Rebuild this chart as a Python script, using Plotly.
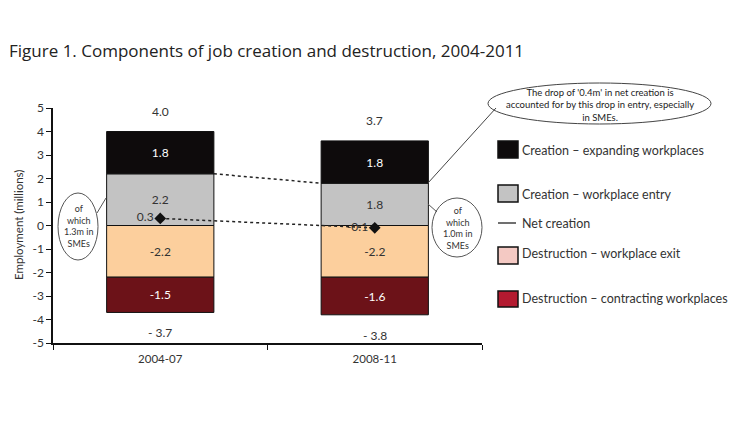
import plotly.graph_objects as go

periods = ["2004-07", "2008-11"]
expanding = [1.8, 1.8]
entry = [2.2, 1.8]
exit_ = [-2.2, -2.2]
contracting = [-1.5, -1.6]
net = [0.3, -0.1]
top_totals = ["4.0", "3.7"]
bottom_totals = ["- 3.7", "- 3.8"]
y_tick_vals = [-5, -4, -3, -2, -1, 0, 1, 2, 3, 4, 5]
y_tick_text = ["-5", "-4", "-3", "-2", "-1", "0", "1", "2", "3", "4", "5"]

legend_labels = ["Creation – expanding workplaces", "Creation – workplace entry", "Net creation",
                 "Destruction – workplace exit", "Destruction – contracting workplaces"]

FONT = "Lato"
C_EXP = "#0e0b0c"
C_ENT = "#c3c3c3"
C_EXIT = "#fccf9d"
C_CON = "#6c1218"
LEG_EXIT = "#f4c9c3"
LEG_CON = "#b31a30"

# plot area pixel geometry
L, R, T, B = 53, 482, 108, 343
W, H = 736, 429


def PX(px):
    return (px - L) / (R - L)


def PY(py):
    return (B - py) / (B - T)


BW = 0.5
fig = go.Figure()


def seg(vals, color, txtcolor, name):
    fig.add_trace(go.Bar(
        x=periods, y=vals, name=name, width=BW,
        marker=dict(color=color, line=dict(color="#111", width=1)),
        text=[f"{v:.1f}" for v in vals], textposition="inside", insidetextanchor="middle",
        textfont=dict(family=FONT, size=12, color=txtcolor), constraintext="none",
        showlegend=False, hoverinfo="skip"))


seg(exit_, C_EXIT, "#333", legend_labels[3])
seg(contracting, C_CON, "#ffffff", legend_labels[4])
seg(entry, C_ENT, "#333", legend_labels[1])
seg(expanding, C_EXP, "#ffffff", legend_labels[0])

fig.add_trace(go.Scatter(
    x=periods, y=net, mode="lines+markers+text",
    line=dict(color="#222", width=1.5, dash="dot"),
    marker=dict(symbol="diamond", size=9, color="#111"),
    text=[f"{v:.1f}" for v in net], textposition="middle left",
    textfont=dict(family=FONT, size=12, color="#333"),
    showlegend=False, hoverinfo="skip"))

pos_tops = [e + x for e, x in zip(expanding, entry)]
neg_bots = [e + c for e, c in zip(exit_, contracting)]

shapes = []
# dotted link between entry tops
shapes.append(dict(type="line", xref="x", yref="y", x0=0 + BW / 2, x1=1 - BW / 2,
                   y0=entry[0], y1=entry[1], line=dict(color="#222", width=1.5, dash="dot")))

ann = []
for i, p in enumerate(periods):
    ann.append(dict(x=p, y=pos_tops[i], xref="x", yref="y", text=top_totals[i], showarrow=False,
                    xanchor="center", yanchor="bottom", yshift=11,
                    font=dict(family=FONT, size=12, color="#333")))
    ann.append(dict(x=p, y=neg_bots[i], xref="x", yref="y", text=bottom_totals[i], showarrow=False,
                    xanchor="center", yanchor="top", yshift=-11,
                    font=dict(family=FONT, size=12, color="#333")))

# title
ann.append(dict(x=PX(7), y=PY(50), xref="paper", yref="paper", xanchor="left", yanchor="middle",
                text="Figure 1. Components of job creation and destruction, 2004-2011", showarrow=False,
                font=dict(family="Open Sans", size=17, color="#222")))
# y-axis title
ann.append(dict(x=PX(18), y=PY(225), xref="paper", yref="paper", textangle=-90, showarrow=False,
                xanchor="center", yanchor="middle",
                text="Employment (millions)", font=dict(family=FONT, size=11.5, color="#333")))

# legend
sw = [(141, 158, C_EXP), (185, 202, C_ENT), (247, 264, LEG_EXIT), (291, 307, LEG_CON)]
for (y0, y1, c) in sw:
    shapes.append(dict(type="rect", xref="paper", yref="paper", x0=PX(498), x1=PX(518),
                       y0=PY(y1), y1=PY(y0), fillcolor=c, line=dict(color="#111", width=1.5)))
shapes.append(dict(type="line", xref="paper", yref="paper", x0=PX(498), x1=PX(516),
                   y0=PY(223), y1=PY(223), line=dict(color="#111", width=1.2)))
for lab, yy in zip(legend_labels, [150, 194, 223, 253, 298]):
    ann.append(dict(x=PX(520), y=PY(yy), xref="paper", yref="paper", xanchor="left", yanchor="middle",
                    showarrow=False, text=lab, font=dict(family=FONT, size=12.5, color="#333")))

# callout ellipses
shapes.append(dict(type="circle", xref="paper", yref="paper", x0=PX(488), x1=PX(711),
                   y0=PY(124), y1=PY(83), line=dict(color="#444", width=1)))
shapes.append(dict(type="line", xref="paper", yref="paper", x0=PX(496), x1=PX(428),
                   y0=PY(108), y1=PY(183), line=dict(color="#444", width=1)))
ann.append(dict(x=PX(600), y=PY(105), xref="paper", yref="paper", showarrow=False,
                xanchor="center", yanchor="middle",
                text="The drop of '0.4m' in net creation is<br>accounted for by this drop in entry, especially<br>in SMEs.",
                font=dict(family=FONT, size=9.5, color="#222")))

shapes.append(dict(type="circle", xref="paper", yref="paper", x0=PX(58), x1=PX(98),
                   y0=PY(260), y1=PY(193), line=dict(color="#555", width=1)))
shapes.append(dict(type="line", xref="paper", yref="paper", x0=PX(97), x1=PX(106),
                   y0=PY(213), y1=PY(198), line=dict(color="#555", width=1)))
ann.append(dict(x=PX(78), y=PY(226), xref="paper", yref="paper", showarrow=False,
                xanchor="center", yanchor="middle",
                text="of<br>which<br>1.3m in<br>SMEs", font=dict(family=FONT, size=9, color="#333")))

shapes.append(dict(type="circle", xref="paper", yref="paper", x0=PX(432), x1=PX(482),
                   y0=PY(257), y1=PY(198), line=dict(color="#555", width=1)))
shapes.append(dict(type="line", xref="paper", yref="paper", x0=PX(428), x1=PX(437),
                   y0=PY(204), y1=PY(212), line=dict(color="#555", width=1)))
ann.append(dict(x=PX(457), y=PY(228), xref="paper", yref="paper", showarrow=False,
                xanchor="center", yanchor="middle",
                text="of<br>which<br>1.0m in<br>SMEs", font=dict(family=FONT, size=9, color="#333")))

fig.update_layout(
    width=W, height=H, barmode="relative", bargap=0.5,
    margin=dict(l=L, r=W - R, t=T, b=H - B, pad=0),
    plot_bgcolor="white", paper_bgcolor="white",
    annotations=ann, shapes=shapes,
    xaxis=dict(type="category", range=[-0.5, 1.5], tickson="boundaries", ticks="outside", ticklen=5,
               tickcolor="#111", showline=True, linecolor="#111", linewidth=1.5, showgrid=False,
               tickfont=dict(family=FONT, size=11.5, color="#333"), ticklabelstandoff=4),
    yaxis=dict(range=[-5, 5], tickmode="array", tickvals=y_tick_vals, ticktext=y_tick_text,
               ticks="outside", ticklen=5, tickcolor="#111", showline=True,
               linecolor="#111", linewidth=1.5, showgrid=False, zeroline=False,
               tickfont=dict(family=FONT, size=12, color="#333")),
)

fig.write_html("out.html", config={"displayModeBar": False},
               post_script="document.body.style.margin='0';")
